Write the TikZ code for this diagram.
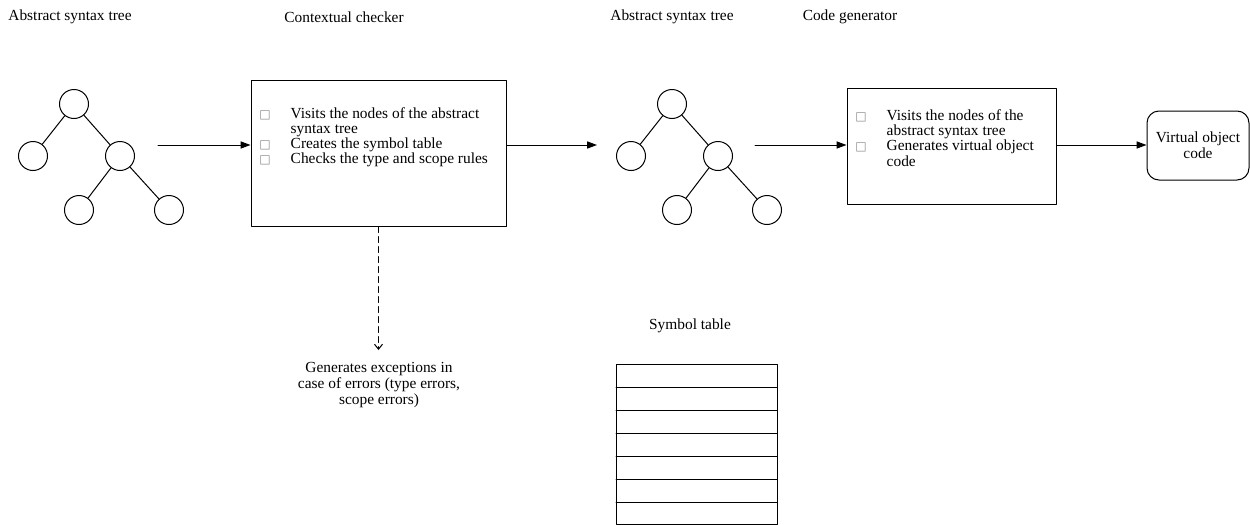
\documentclass[tikz,border=0pt]{standalone}
\usepackage{fontspec}
\setmainfont{Liberation Serif}
\newfontfamily\boxglyph{DejaVu Sans}
\usetikzlibrary{arrows.meta,calc,positioning}
\definecolor{csInk}{HTML}{000000}
\definecolor{csMid}{HTML}{8C8C8C}
\newcommand{\diagfont}{\fontsize{7.7}{8}\selectfont}
\newcommand{\listfont}{\fontsize{7.7}{7.6}\selectfont}
\newcommand{\sqbullet}{{\boxglyph\fontsize{6}{6}\selectfont\textcolor{csMid}{□}}}
\tikzset{
 compiler/.style={font=\diagfont,line cap=round,line join=round,text=csInk},
 heading/.style={font=\diagfont,inner sep=0pt},
 tnode/.style={circle,draw=csInk,fill=white,line width=.5pt,inner sep=0pt,minimum size=14.5pt},
 branch/.style={draw=csInk,line width=.5pt},
 procbox/.style={rectangle,draw=csInk,line width=.5pt,inner sep=0pt},
 outbox/.style={procbox,rounded corners=6pt,align=center,font=\diagfont},
 steps/.style={font=\listfont,anchor=west,inner sep=0pt},
 flow/.style={draw=csInk,line width=.5pt,-{Triangle[length=5pt,width=3.6pt]}},
 errflow/.style={draw=csInk,line width=.5pt,densely dashed,-{Straight Barb[length=2.5pt,width=4pt]}},
 note/.style={font=\diagfont,align=center,inner sep=0pt},
 tablebox/.style={draw=csInk,line width=.5pt}
}

\begin{document}
\begin{tikzpicture}[compiler,x=.5pt,y=-.5pt]
 \useasboundingbox (0,0) rectangle (1250,525);
 % headings
 \node[heading] (h1) at (70,17) {Abstract syntax tree};
 \node[heading] (h2) at (344,17) {Contextual checker};
 \node[heading] (h3) at (672,17) {Abstract syntax tree};
 \node[heading] (h4) at (850,17) {Code generator};
 \node[heading] (h5) at (690,326) {Symbol table};
 % the two syntax trees
 \foreach \t/\dx in {1/0,2/598}{
  \node[tnode] (r\t) at (74+\dx,104) {};
  \node[tnode] (l\t) at (33+\dx,156) {};
  \node[tnode] (m\t) at (120+\dx,156) {};
  \node[tnode] (g\t) at (79+\dx,210) {};
  \node[tnode] (k\t) at (169+\dx,210) {};
  \draw[branch] (r\t)--(l\t) (r\t)--(m\t) (m\t)--(g\t) (m\t)--(k\t);
 }
 % checker and generator
 \node[procbox,minimum width=127.5pt,minimum height=73pt] (chk) at (378.5,153) {};
 \node[steps] (chksteps) at (259,138) {\begin{tabular}{@{}l@{\hspace{10pt}}l@{}}
  \sqbullet & Visits the nodes of the abstract\\
   & syntax tree\\
  \sqbullet & Creates the symbol table\\
  \sqbullet & Checks the type and scope rules\end{tabular}};
 \node[procbox,minimum width=104.5pt,minimum height=58pt] (gen) at (951.5,146) {};
 \node[steps] (gensteps) at (855,140) {\begin{tabular}{@{}l@{\hspace{10pt}}l@{}}
  \sqbullet & Visits the nodes of the\\
   & abstract syntax tree\\
  \sqbullet & Generates virtual object\\
   & code\end{tabular}};
 \node[outbox,minimum width=51pt,minimum height=34.5pt] (vcode) at (1198,145.5) {Virtual object\\code};
 \coordinate (in1) at (158,145);
 \coordinate (in2) at (597,145);
 \coordinate (out2) at (755,145);
 \coordinate (errend) at (378.5,350);
 \draw[flow] (in1) -- (chk.west |- in1);
 \draw[flow] (chk.east |- in2) -- (in2);
 \draw[flow] (out2) -- (gen.west |- out2);
 \draw[flow] (gen.east |- in2) -- (vcode.west |- in2);
 \draw[errflow] (chk.south) -- (errend);
 \node[note] (exc) at (379,385) {Generates exceptions in\\case of errors (type errors,\\scope errors)};
 % symbol table
 \draw[tablebox] (616,364) rectangle (777,524);
 \foreach \y in {387,410,433,456,479,502}{\draw[tablebox] (616,\y) -- (777,\y);}
\end{tikzpicture}
\end{document}
